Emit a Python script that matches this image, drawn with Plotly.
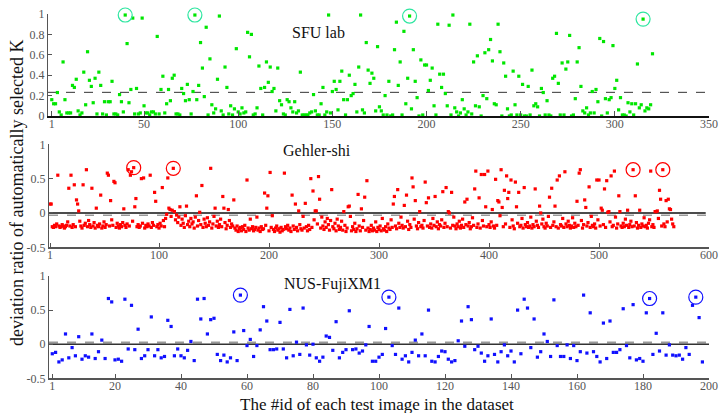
import plotly.graph_objects as go

# ---------------- data ----------------
sfu_vals = [
    0.16,0.12,0.12,0.23,0.04,0.01,0.53,0.16,0.03,0.03,
    0.03,0.30,0.28,0.36,0.05,0.01,0.03,0.43,0.11,0.63,
    0.35,0.29,0.13,0.37,0.02,0.43,0.30,0.02,0.14,0.01,
    0.14,0.14,0.34,0.02,0.02,0.01,0.21,0.14,0.04,0.99,
    0.71,0.13,0.26,0.96,0.02,0.27,0.02,0.03,0.96,0.10,
    0.03,0.03,0.01,0.04,0.04,0.02,0.78,0.02,0.26,0.39,
    0.03,0.12,0.26,0.15,0.37,0.40,0.02,0.02,0.01,0.27,
    0.22,0.15,0.31,0.16,0.02,0.24,0.99,0.16,0.30,0.72,
    0.47,0.19,0.87,0.01,0.56,0.11,0.03,0.07,0.36,0.98,
    0.05,0.01,0.48,0.28,0.02,0.10,0.01,0.07,0.66,0.04,
    0.02,0.08,0.03,0.04,0.82,0.58,0.80,0.01,0.02,0.08,
    0.49,0.27,0.01,0.28,0.53,0.33,0.48,0.24,0.27,0.05,
    0.47,0.15,0.11,0.02,0.01,0.16,0.14,0.08,0.04,0.14,
    0.03,0.05,0.43,0.01,0.01,0.01,0.01,0.03,0.04,0.21,
    0.05,0.01,0.01,0.12,0.28,0.01,0.04,0.99,0.03,0.24,
    0.34,0.26,0.06,0.34,0.44,0.16,0.01,0.16,0.40,0.20,
    0.22,0.31,0.04,0.48,
    0.99,0.06,0.03,0.72,0.45,0.32,0.42,0.37,0.05,0.68,
    0.09,0.05,0.01,0.20,0.01,0.34,0.00,0.01,0.65,0.92,
    0.30,0.53,0.01,0.83,0.12,0.37,0.98,0.07,0.65,0.34,
    0.18,0.00,0.55,0.01,0.50,0.50,0.25,0.35,0.47,0.10,
    0.01,0.90,0.41,0.28,0.41,0.22,0.10,0.89,0.01,0.99,
    0.08,0.04,0.00,0.03,0.16,0.07,0.01,0.04,0.90,0.02,
    0.53,0.10,0.59,0.09,0.00,0.20,0.62,0.17,0.65,0.75,
    0.54,0.12,0.11,0.90,0.63,0.00,0.52,0.39,0.07,0.00,
    0.01,0.44,0.11,0.01,0.39,0.01,0.31,0.00,0.00,0.29,
    0.01,0.45,0.10,0.12,0.09,0.00,0.27,0.23,0.01,0.15,
    0.01,0.00,0.37,0.39,0.81,0.32,0.01,0.52,0.01,0.46,
    0.53,0.79,0.00,0.01,0.17,0.53,0.67,0.29,0.05,0.03,
    0.08,0.01,0.03,0.24,0.03,0.26,0.14,0.76,0.00,0.73,
    0.17,0.03,0.16,0.18,0.69,0.27,0.35,0.06,0.18,0.01,
    0.01,0.00,0.13,0.04,0.12,0.01,0.12,0.51,0.08,0.11,
    0.95,0.05,0.08,0.07,0.11,0.61,
]
sfu_ids = list(range(1, len(sfu_vals) + 1))
sfu_circled = [40, 77, 191, 315]
sfu_ref = 0.232

# Gehler-shi: points standing clear of the dense band (id, value)
gehler_upper_ids = [
    1,2,8,18,20,23,25,26,27,31, 34,39,43,47,53,54,56,59,60,68,
    72,74,75,77,78,79,84,86,92,96, 97,103,108,109,110,113,114,119,125,134,
    137,139,147,151,158,159,163,168,180,196, 198,199,201,214,221,224,227,233,238,240,
    242,243,245,246,257,268,272,273,281,284, 287,289,313,314,317,323,325,330,331,333,
    337,342,343,345,351,358,361,363,364,366, 378,380,387,388,391,393,396,397,399,403,
    406,408,409,411,412,414,416,417,418,420, 424,425,427,432,442,446,447,455,457,460,
    462,464,469,480,482,483,487,488,491,498, 500,502,503,505,507,508,509,511,514,518,
    519,526,531,533,537,547,551,552,553,555, 556,558,561,563,564,565,
]
gehler_upper_vals = [
    0.13,0.13,0.55,0.36,0.55,0.41,0.19,0.13,0.03,0.41, 0.63,0.36,0.07,0.26,0.58,0.55,0.18,0.46,0.44,0.06,
    0.63,0.55,0.60,0.66,0.09,0.21,0.50,0.51,0.55,0.30, 0.17,0.37,0.51,0.07,0.05,0.65,0.02,0.09,0.10,0.25,
    0.01,0.40,0.65,0.07,0.24,0.07,0.05,0.19,0.48,0.29, 0.07,0.25,0.59,0.58,0.26,0.13,0.03,0.14,0.50,0.32,
    0.03,0.03,0.53,0.20,0.34,0.02,0.09,0.10,0.27,0.06, 0.23,0.47,0.13,0.24,0.34,0.11,0.26,0.51,0.38,0.18,
    0.02,0.45,0.15,0.22,0.24,0.31,0.37,0.02,0.00,0.30, 0.16,0.20,0.35,0.61,0.22,0.56,0.56,0.09,0.61,0.05,
    0.49,0.18,0.16,0.63,0.08,0.33,0.54,0.21,0.30,0.48, 0.45,0.09,0.30,0.37,0.35,0.10,0.00,0.23,0.36,0.10,
    0.48,0.54,0.60,0.17,0.58,0.63,0.19,0.08,0.38,0.48, 0.48,0.07,0.04,0.35,0.47,0.01,0.02,0.54,0.61,0.25,
    0.02,0.04,0.63,0.25,0.04,0.61,0.02,0.02,0.03,0.33, 0.20,0.63,0.18,0.20,0.06,0.05,
]
# Gehler-shi: the dense band below zero, in id order for the remaining ids
gehler_band_vals = [
    -0.20,-0.21,-0.18,-0.20,-0.16,-0.19,-0.21,-0.20,-0.17,-0.19,-0.22,-0.20,-0.18,-0.13,-0.19,-0.21,-0.17,-0.20,-0.12,-0.19,
    -0.22,-0.18,-0.15,-0.20,-0.11,-0.17,-0.21,-0.19,-0.14,-0.22,-0.18,-0.20,-0.16,-0.22,-0.19,-0.13,-0.21,-0.17,-0.19,-0.10,
    -0.18,-0.21,-0.15,-0.19,-0.22,-0.17,-0.20,-0.14,-0.18,-0.21,-0.16,-0.19,-0.12,-0.20,-0.17,-0.21,-0.19,-0.15,-0.22,-0.18,
    -0.20,-0.16,-0.19,-0.21,-0.14,-0.18,-0.20,-0.17,-0.22,-0.15,-0.19,-0.11,-0.20,-0.08,-0.02,-0.05,0.04,-0.10,-0.03,-0.14,
    -0.06,-0.18,-0.09,-0.15,-0.21,-0.04,-0.17,-0.12,-0.20,-0.08,-0.16,-0.13,-0.22,-0.06,-0.19,-0.11,-0.17,-0.21,-0.09,-0.15,
    -0.20,-0.07,-0.18,-0.13,-0.22,-0.16,-0.05,-0.19,-0.12,-0.21,-0.17,-0.09,-0.20,-0.14,-0.23,-0.18,-0.11,-0.21,-0.16,-0.19,
    -0.22,-0.25,-0.19,-0.27,-0.23,-0.21,-0.26,-0.20,-0.24,-0.18,-0.27,-0.22,-0.25,-0.09,-0.23,-0.20,-0.26,-0.24,-0.21,-0.06,
    -0.25,-0.22,-0.27,-0.20,-0.24,-0.23,-0.18,-0.26,-0.21,-0.04,-0.24,-0.27,-0.22,-0.19,-0.25,-0.23,-0.28,-0.21,-0.26,-0.24,
    -0.20,-0.23,-0.18,-0.25,-0.22,-0.27,-0.19,-0.24,-0.21,-0.26,-0.17,-0.23,-0.25,-0.05,-0.22,-0.20,-0.26,-0.18,-0.24,-0.21,
    -0.10,-0.16,-0.22,-0.06,-0.19,-0.24,-0.13,-0.21,-0.08,-0.17,-0.25,-0.11,-0.20,-0.23,-0.15,-0.26,-0.09,-0.19,-0.24,-0.21,
    -0.12,-0.25,-0.18,-0.27,-0.22,-0.05,-0.26,-0.20,-0.24,-0.15,-0.27,-0.23,-0.19,-0.26,-0.21,-0.11,-0.25,-0.22,-0.27,-0.24,
    -0.18,-0.26,-0.22,-0.25,-0.13,-0.27,-0.21,-0.24,-0.19,-0.26,-0.08,-0.23,-0.25,-0.20,-0.27,-0.16,-0.22,-0.24,-0.10,-0.21,
    -0.19,-0.23,-0.15,-0.21,-0.06,-0.18,-0.22,-0.20,-0.12,-0.24,-0.17,-0.21,-0.09,-0.19,-0.23,-0.14,-0.20,-0.18,-0.22,-0.11,
    -0.19,-0.21,-0.16,-0.22,-0.08,-0.18,-0.20,-0.13,-0.23,-0.17,-0.19,-0.10,-0.21,-0.15,-0.20,-0.22,-0.18,-0.06,-0.19,-0.23,
    -0.16,-0.20,-0.12,-0.22,-0.18,-0.09,-0.21,-0.17,-0.19,-0.14,-0.23,-0.20,-0.07,-0.18,-0.21,-0.16,-0.22,-0.11,-0.19,-0.20,
    -0.17,-0.21,-0.13,-0.19,-0.22,-0.18,-0.04,-0.20,-0.16,-0.21,-0.10,-0.19,-0.23,-0.15,-0.20,-0.18,-0.08,-0.22,-0.17,-0.20,
    -0.14,-0.21,-0.19,-0.06,-0.22,-0.17,-0.20,-0.12,-0.18,-0.21,-0.16,-0.09,-0.20,-0.22,-0.15,-0.19,-0.05,-0.21,-0.18,-0.13,
    -0.20,-0.22,-0.17,-0.19,-0.08,-0.21,-0.16,-0.20,-0.12,-0.18,-0.22,-0.19,-0.07,-0.21,-0.15,-0.20,-0.18,-0.11,-0.22,-0.17,
    -0.19,-0.14,-0.21,-0.05,-0.18,-0.20,-0.16,-0.22,-0.10,-0.19,-0.17,-0.21,-0.13,-0.20,-0.18,-0.06,-0.22,-0.16,-0.19,-0.21,
    -0.15,-0.20,-0.09,-0.18,-0.21,-0.17,-0.12,-0.20,-0.19,-0.14,-0.22,-0.18,-0.21,-0.16,-0.19,-0.07,-0.20,-0.18,-0.22,-0.15,
    -0.10,-0.20,-0.17,-0.21,-0.08,-0.19,-0.16,-0.20,-0.13,-0.09,-0.16,-0.20,
]
gehler_circled = [77, 113, 531, 558]
gehler_ref = -0.035

nus_vals = [
    -0.14,-0.12,-0.26,-0.23,0.15,-0.20,-0.05,-0.17,0.11,-0.22,
    -0.17,-0.19,0.15,-0.21,-0.11,0.06,-0.21,0.67,0.62,-0.23,
    -0.22,-0.25,0.66,-0.07,0.57,-0.08,0.22,-0.21,-0.17,-0.08,
    0.40,-0.17,-0.08,-0.20,-0.18,0.35,0.26,-0.17,-0.07,-0.17,
    -0.20,-0.09,0.04,-0.24,0.66,0.37,0.67,0.15,0.36,0.38,
    -0.15,-0.24,-0.16,-0.26,-0.20,0.18,-0.24,0.72,0.20,-0.02,
    0.07,-0.18,-0.02,0.21,0.55,0.34,-0.08,-0.08,-0.07,0.32,
    -0.07,-0.20,0.51,-0.17,0.03,-0.15,0.53,-0.01,-0.16,0.00,
    -0.20,-0.25,-0.19,0.12,0.10,-0.09,0.33,-0.20,-0.12,-0.08,
    0.49,-0.08,-0.07,-0.13,-0.10,-0.01,0.26,-0.25,-0.25,-0.19,
    -0.15,0.23,0.69,-0.02,-0.15,0.53,-0.22,-0.17,-0.26,-0.12,
    0.06,-0.17,0.15,-0.17,0.50,-0.25,-0.26,-0.18,-0.10,-0.11,
    -0.22,-0.26,-0.24,0.05,0.34,-0.03,0.55,0.36,-0.08,-0.03,
    -0.13,-0.25,-0.17,0.37,-0.15,-0.26,-0.11,-0.01,-0.17,-0.10,
    -0.26,0.50,-0.14,0.66,0.53,-0.05,0.37,-0.19,-0.11,0.15,
    0.04,-0.18,0.65,-0.02,-0.18,-0.18,-0.01,-0.21,-0.02,-0.24,
    -0.11,0.72,-0.13,0.46,-0.11,-0.18,-0.26,0.31,-0.21,0.34,
    -0.12,-0.12,-0.08,0.52,-0.02,-0.20,0.58,-0.23,-0.21,-0.25,
    0.46,0.67,-0.15,0.16,-0.10,0.46,-0.16,-0.01,-0.16,-0.17,
    -0.16,-0.22,-0.05,-0.15,0.57,0.69,0.39,-0.26,
]
nus_ids = list(range(1, len(nus_vals) + 1))
nus_circled = [58, 103, 182, 196]
nus_ref = 0.024

sfu_ticks = [1, 50, 100, 150, 200, 250, 300, 350]
gehler_ticks = [1, 100, 200, 300, 400, 500, 600]
nus_ticks = [1, 20, 40, 60, 80, 100, 120, 140, 160, 180, 200]

# merge Gehler upper points and band into one series
n_gehler = len(gehler_upper_ids) + len(gehler_band_vals)
gehler_map = dict(zip(gehler_upper_ids, gehler_upper_vals))
rest_ids = [i for i in range(1, n_gehler + 1) if i not in gehler_map]
for i, v in zip(rest_ids, gehler_band_vals):
    gehler_map[i] = v
gehler_ids = sorted(gehler_map)
gehler_vals = [gehler_map[i] for i in gehler_ids]

# ---------------- figure ----------------
W, H = 720, 413
FONT = "Liberation Serif"
GREEN, RED, BLUE = "#00e600", "#ff0000", "#1010ff"
CIRC_GREEN = "#2ee6a0"

fig = go.Figure()

def add_series(ids, vals, color, xa, ya, circled, circ_color):
    fig.add_trace(go.Scatter(x=ids, y=vals, mode="markers", xaxis=xa, yaxis=ya,
                             marker=dict(color=color, size=3.2, symbol="square"),
                             cliponaxis=False, showlegend=False))
    cy = [vals[ids.index(i)] for i in circled]
    fig.add_trace(go.Scatter(x=circled, y=cy, mode="markers", xaxis=xa, yaxis=ya,
                             marker=dict(color=circ_color, size=14, symbol="circle-open",
                                         line=dict(color=circ_color, width=1.2)),
                             cliponaxis=False, showlegend=False))

add_series(sfu_ids, sfu_vals, GREEN, "x", "y", sfu_circled, CIRC_GREEN)
add_series(gehler_ids, gehler_vals, RED, "x2", "y2", gehler_circled, RED)
add_series(nus_ids, nus_vals, BLUE, "x3", "y3", nus_circled, BLUE)

def px(x):
    return x / W

def py(y):
    return 1 - y / H

tickfont = dict(family=FONT, size=12, color="#555555")
common_x = dict(showgrid=False, zeroline=False, showline=True, ticks="inside",
                ticklen=5, tickcolor="#555555", tickfont=tickfont, mirror=False,
                ticklabelstandoff=-4)
common_y = dict(showgrid=False, zeroline=False, showline=True, ticks="inside",
                ticklen=4, tickcolor="#555555", tickfont=tickfont, linecolor="#555555",
                linewidth=1.2, mirror=False)

fig.update_layout(
    width=W, height=H,
    margin=dict(l=0, r=0, t=0, b=0, autoexpand=False),
    paper_bgcolor="white", plot_bgcolor="white",
    showlegend=False,
    xaxis=dict(domain=[px(48), px(709)], range=[-1, 350], anchor="y",
               tickvals=sfu_ticks, linecolor="#111111", linewidth=2, **common_x),
    yaxis=dict(domain=[py(116), py(14)], range=[0, 1], anchor="x",
               tickvals=[0, 0.2, 0.4, 0.6, 0.8, 1], ticktext=["0", "0.2", "0.4", "0.6", "0.8", "1"],
               **common_y),
    xaxis2=dict(domain=[px(49), px(709)], range=[0, 600], anchor="y2",
                tickvals=gehler_ticks, linecolor="#555555", linewidth=1.5, **common_x),
    yaxis2=dict(domain=[py(247.3), py(144.3)], range=[-0.5, 1], anchor="x2",
                tickvals=[-0.5, 0, 0.5, 1], ticktext=["-0.5", "0", "0.5", "1"], **common_y),
    xaxis3=dict(domain=[px(49), px(709)], range=[0, 200], anchor="y3",
                tickvals=nus_ticks, linecolor="#555555", linewidth=1.5, **common_x),
    yaxis3=dict(domain=[py(378.3), py(276)], range=[-0.5, 1], anchor="x3",
                tickvals=[-0.5, 0, 0.5, 1], ticktext=["-0.5", "0", "0.5", "1"], **common_y),
)

# reference lines
fig.add_shape(type="line", xref="x", yref="y", x0=-1, x1=350, y0=sfu_ref, y1=sfu_ref,
              line=dict(color="#333333", width=1, dash="dash"), layer="below")
fig.add_shape(type="line", xref="x2", yref="y2", x0=0, x1=600, y0=gehler_ref, y1=gehler_ref,
              line=dict(color="#999999", width=1.5, dash="dash"), layer="below")
fig.add_shape(type="line", xref="x2", yref="y2", x0=0, x1=597, y0=0, y1=0,
              line=dict(color="#111111", width=1.5), layer="below")
fig.add_shape(type="line", xref="x3", yref="y3", x0=0, x1=200, y0=nus_ref, y1=nus_ref,
              line=dict(color="#999999", width=2, dash="dash"), layer="below")
fig.add_shape(type="line", xref="x3", yref="y3", x0=0, x1=200, y0=0, y1=0,
              line=dict(color="#333333", width=1.5), layer="below")

title_font = dict(family=FONT, size=16, color="#111111")
for text, x, y in [("SFU lab", 318, 32), ("Gehler-shi", 317, 150), ("NUS-FujiXM1", 332, 284)]:
    fig.add_annotation(text=text, x=px(x), y=py(y), xref="paper", yref="paper",
                       showarrow=False, font=title_font, xanchor="center", yanchor="middle")

fig.add_annotation(text="deviation ratio of automatically selected K", x=px(17), y=py(193),
                   xref="paper", yref="paper", showarrow=False, textangle=-90,
                   font=dict(family=FONT, size=18, color="#111111"),
                   xanchor="center", yanchor="middle")
fig.add_annotation(text="The #id of each test image in the dataset", x=px(377), y=py(404),
                   xref="paper", yref="paper", showarrow=False,
                   font=dict(family=FONT, size=17, color="#111111"),
                   xanchor="center", yanchor="middle")

fig.write_html("out.html", config={"displayModeBar": False},
               post_script="document.body.style.margin='0';document.body.style.overflow='hidden';")
